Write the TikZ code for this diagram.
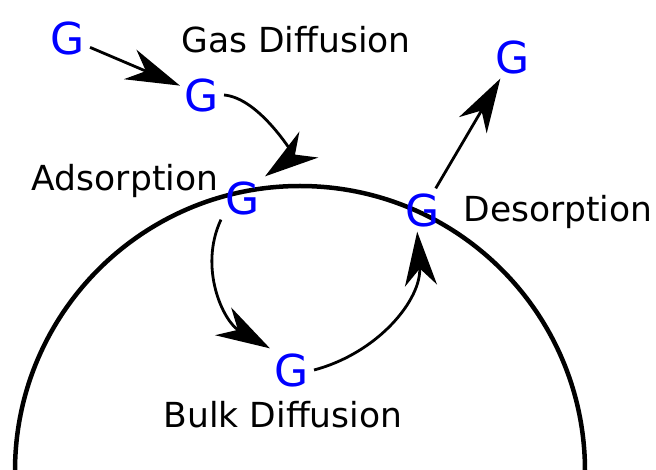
\documentclass[tikz,border=0pt]{standalone}
\usepackage{fontspec}
\setmainfont{DejaVu Sans}
\usetikzlibrary{arrows.meta,positioning}
\tikzset{
myGas/.style={
	text=blue, font=\fontsize{44}{44}\selectfont,
	inner sep=2pt, outer sep=3pt
}
, myLabel/.style={
	text=black, font=\fontsize{34.5}{40}\selectfont,
	inner sep=0pt
}
% links
, myStep/.style={-{Stealth[length=54pt,width=32pt,inset=17pt]},line width=2.8pt}
, mySurface/.style={line width=4.5pt}
}

\begin{document}
\begin{tikzpicture}[x=1pt,y=1pt]
	\useasboundingbox (0,0) rectangle (656,-470);
	% particle
	\begin{scope}
		\clip (0,0) rectangle (656,-470);
		\draw[mySurface] (300,-471) circle (285);
	\end{scope}
	% gas molecules
	\node[myGas] (GasA) at ( 68,-38)  {G};
	\node[myGas] (GasB) at (202,-95)  {G};
	\node[myGas] (Ads)  at (243,-198) {G};
	\node[myGas] (Bulk) at (292,-370) {G};
	\node[myGas] (Des)  at (423,-210) {G};
	\node[myGas] (Free) at (513,-57)  {G};
	% labels
	\node[myLabel] (GasLbl)  at (296,-40)  {Gas Diffusion};
	\node[myLabel] (AdsLbl)  at (125,-181) {Adsorption};
	\node[myLabel] (DesLbl)  at (558,-212) {Desorption};
	\node[myLabel] (BulkLbl) at (283,-415) {Bulk Diffusion};
	% steps
	\draw [myStep] (GasA) -- (GasB);
	\draw [myStep] (GasB.east) to[out=-5,in=36] (Ads.north east);
	\draw [myStep] (Ads.south west) to[out=245,in=150] (Bulk.north west);
	\draw [myStep] (Bulk.east) to[out=15,in=-86] (Des.255);
	\draw [myStep] (Des) -- (Free);
\end{tikzpicture}
\end{document}
